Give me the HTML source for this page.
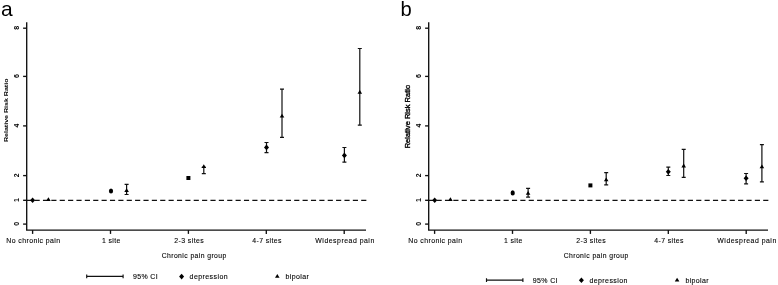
<!DOCTYPE html>
<html><head><meta charset="utf-8"><title>Figure</title>
<style>html,body{margin:0;padding:0;background:#fff;}svg{display:block;}text{font-family:"Liberation Sans",Arial,sans-serif;fill:#000;stroke:#000;stroke-width:0.1px;}</style>
</head><body>
<svg width="778" height="285" viewBox="0 0 778 285">
<rect x="0" y="0" width="778" height="285" fill="#fff"/>
<g>
<text x="1.0" y="16.2" font-size="21" style="stroke:none">a</text>
<path d="M26.7 22.3V230.1H366" fill="none" stroke="#111" stroke-width="1.35"/>
<path d="M23.099999999999998 28.2H26.7" stroke="#111" stroke-width="1.35"/>
<text transform="translate(18.799999999999997 27.9) rotate(-90)" text-anchor="middle" font-size="7" font-weight="bold" style="stroke:none">8</text>
<path d="M23.099999999999998 76.4H26.7" stroke="#111" stroke-width="1.35"/>
<text transform="translate(18.799999999999997 76.10000000000001) rotate(-90)" text-anchor="middle" font-size="7" font-weight="bold" style="stroke:none">6</text>
<path d="M23.099999999999998 125.9H26.7" stroke="#111" stroke-width="1.35"/>
<text transform="translate(18.799999999999997 125.60000000000001) rotate(-90)" text-anchor="middle" font-size="7" font-weight="bold" style="stroke:none">4</text>
<path d="M23.099999999999998 175.6H26.7" stroke="#111" stroke-width="1.35"/>
<text transform="translate(18.799999999999997 175.29999999999998) rotate(-90)" text-anchor="middle" font-size="7" font-weight="bold" style="stroke:none">2</text>
<path d="M23.099999999999998 200.3H26.7" stroke="#111" stroke-width="1.35"/>
<text transform="translate(18.799999999999997 200.0) rotate(-90)" text-anchor="middle" font-size="7" font-weight="bold" style="stroke:none">1</text>
<path d="M23.099999999999998 224.1H26.7" stroke="#111" stroke-width="1.35"/>
<text transform="translate(18.799999999999997 223.79999999999998) rotate(-90)" text-anchor="middle" font-size="7" font-weight="bold" style="stroke:none">0</text>
<path d="M32.6 230.1V233.9" stroke="#111" stroke-width="1.35"/>
<text x="33.2" y="243.1" text-anchor="middle" font-size="6.9" textLength="53.8" lengthAdjust="spacing">No chronic pain</text>
<path d="M110.5 230.1V233.9" stroke="#111" stroke-width="1.35"/>
<text x="111.1" y="243.1" text-anchor="middle" font-size="6.9" textLength="18.3" lengthAdjust="spacing">1 site</text>
<path d="M188.4 230.1V233.9" stroke="#111" stroke-width="1.35"/>
<text x="189.0" y="243.1" text-anchor="middle" font-size="6.9" textLength="29.5" lengthAdjust="spacing">2-3 sites</text>
<path d="M266.3 230.1V233.9" stroke="#111" stroke-width="1.35"/>
<text x="266.9" y="243.1" text-anchor="middle" font-size="6.9" textLength="29.2" lengthAdjust="spacing">4-7 sites</text>
<path d="M344.2 230.1V233.9" stroke="#111" stroke-width="1.35"/>
<text x="344.8" y="243.1" text-anchor="middle" font-size="6.9" textLength="58.9" lengthAdjust="spacing">Widespread pain</text>
<text x="194" y="258.3" text-anchor="middle" font-size="6.8" textLength="64.6" lengthAdjust="spacing">Chronic pain group</text>
<text transform="translate(8.0 110.3) rotate(-90)" text-anchor="middle" font-size="5.9" font-weight="bold" style="stroke:none" textLength="63.5" lengthAdjust="spacingAndGlyphs">Relative Risk Ratio</text>
<path d="M26.2 200.4H366.4" stroke="#111" stroke-width="1.15" stroke-dasharray="5.15 3.225" fill="none"/>
<path d="M32.6 197.5L35.1 200.3L32.6 203.10000000000002L30.1 200.3Z" fill="#000"/>
<path d="M48.4 197.3L50.7 201.1L46.1 201.1Z" fill="#000"/>
<ellipse cx="111" cy="191" rx="2.1" ry="2.6" fill="#000"/>
<path d="M126.6 184.4V194.5M124.6 184.4H128.6M124.6 194.5H128.6" stroke="#111" stroke-width="1.2" fill="none"/>
<path d="M126.6 188.2L128.9 192.0L124.3 192.0Z" fill="#000"/>
<rect x="186.4" y="176.0" width="4.0" height="4.0" fill="#000"/>
<path d="M203.8 167.4V173.6M201.8 167.4H205.8M201.8 173.6H205.8" stroke="#111" stroke-width="1.2" fill="none"/>
<path d="M203.8 164.2L206.1 168.0L201.5 168.0Z" fill="#000"/>
<path d="M266.5 142.5V152.6M264.5 142.5H268.5M264.5 152.6H268.5" stroke="#111" stroke-width="1.2" fill="none"/>
<path d="M266.5 144.6L269.0 147.4L266.5 150.20000000000002L264.0 147.4Z" fill="#000"/>
<path d="M282 89.1V137.4M280.0 89.1H284.0M280.0 137.4H284.0" stroke="#111" stroke-width="1.2" fill="none"/>
<path d="M282 113.8L284.3 117.6L279.7 117.6Z" fill="#000"/>
<path d="M344.4 147.5V162.1M342.4 147.5H346.4M342.4 162.1H346.4" stroke="#111" stroke-width="1.2" fill="none"/>
<path d="M344.4 152.6L346.9 155.4L344.4 158.20000000000002L341.9 155.4Z" fill="#000"/>
<path d="M359.8 48.5V125.1M357.8 48.5H361.8M357.8 125.1H361.8" stroke="#111" stroke-width="1.2" fill="none"/>
<path d="M359.8 90.0L362.1 93.8L357.5 93.8Z" fill="#000"/>
<path d="M86.7 276.4H123.1M86.7 274.5V278.3M123.1 274.5V278.3" stroke="#111" stroke-width="1.15" fill="none"/>
<text x="133.0" y="279.1" font-size="7" textLength="24.7" lengthAdjust="spacing">95% CI</text>
<path d="M181.6 273.8L184.1 276.6L181.6 279.40000000000003L179.1 276.6Z" fill="#000"/>
<text x="189.6" y="279.1" font-size="7" textLength="38" lengthAdjust="spacing">depression</text>
<path d="M277.3 274.0L279.6 277.8L275.0 277.8Z" fill="#000"/>
<text x="285.6" y="279.1" font-size="7" textLength="23.2" lengthAdjust="spacing">bipolar</text>
</g>
<g>
<text x="400.6" y="16.2" font-size="20.2" style="stroke:none">b</text>
<path d="M428.7 22.3V230.1H768.0" fill="none" stroke="#111" stroke-width="1.35"/>
<path d="M425.09999999999997 28.2H428.7" stroke="#111" stroke-width="1.35"/>
<text transform="translate(420.8 27.9) rotate(-90)" text-anchor="middle" font-size="7" font-weight="bold" style="stroke:none">8</text>
<path d="M425.09999999999997 76.4H428.7" stroke="#111" stroke-width="1.35"/>
<text transform="translate(420.8 76.10000000000001) rotate(-90)" text-anchor="middle" font-size="7" font-weight="bold" style="stroke:none">6</text>
<path d="M425.09999999999997 125.9H428.7" stroke="#111" stroke-width="1.35"/>
<text transform="translate(420.8 125.60000000000001) rotate(-90)" text-anchor="middle" font-size="7" font-weight="bold" style="stroke:none">4</text>
<path d="M425.09999999999997 175.6H428.7" stroke="#111" stroke-width="1.35"/>
<text transform="translate(420.8 175.29999999999998) rotate(-90)" text-anchor="middle" font-size="7" font-weight="bold" style="stroke:none">2</text>
<path d="M425.09999999999997 200.3H428.7" stroke="#111" stroke-width="1.35"/>
<text transform="translate(420.8 200.0) rotate(-90)" text-anchor="middle" font-size="7" font-weight="bold" style="stroke:none">1</text>
<path d="M425.09999999999997 224.1H428.7" stroke="#111" stroke-width="1.35"/>
<text transform="translate(420.8 223.79999999999998) rotate(-90)" text-anchor="middle" font-size="7" font-weight="bold" style="stroke:none">0</text>
<path d="M434.6 230.1V233.9" stroke="#111" stroke-width="1.35"/>
<text x="435.2" y="243.1" text-anchor="middle" font-size="6.9" textLength="53.8" lengthAdjust="spacing">No chronic pain</text>
<path d="M512.5 230.1V233.9" stroke="#111" stroke-width="1.35"/>
<text x="513.1" y="243.1" text-anchor="middle" font-size="6.9" textLength="18.3" lengthAdjust="spacing">1 site</text>
<path d="M590.4 230.1V233.9" stroke="#111" stroke-width="1.35"/>
<text x="591.0" y="243.1" text-anchor="middle" font-size="6.9" textLength="29.5" lengthAdjust="spacing">2-3 sites</text>
<path d="M668.3 230.1V233.9" stroke="#111" stroke-width="1.35"/>
<text x="668.9" y="243.1" text-anchor="middle" font-size="6.9" textLength="29.2" lengthAdjust="spacing">4-7 sites</text>
<path d="M746.2 230.1V233.9" stroke="#111" stroke-width="1.35"/>
<text x="746.8" y="243.1" text-anchor="middle" font-size="6.9" textLength="58.9" lengthAdjust="spacing">Widespread pain</text>
<text x="596.0" y="258.3" text-anchor="middle" font-size="6.8" textLength="64.6" lengthAdjust="spacing">Chronic pain group</text>
<text transform="translate(410.2 116.6) rotate(-90)" text-anchor="middle" font-size="6.6" style="stroke-width:0.35px" textLength="63.5" lengthAdjust="spacingAndGlyphs">Relative Risk Ratio</text>
<path d="M428.2 200.4H768.4" stroke="#111" stroke-width="1.15" stroke-dasharray="5.15 3.225" fill="none"/>
<path d="M434.7 197.5L437.2 200.3L434.7 203.10000000000002L432.2 200.3Z" fill="#000"/>
<path d="M450.4 197.3L452.7 201.1L448.1 201.1Z" fill="#000"/>
<ellipse cx="512.7" cy="192.9" rx="2.1" ry="2.6" fill="#000"/>
<path d="M528.1 188.4V197.2M526.1 188.4H530.1M526.1 197.2H530.1" stroke="#111" stroke-width="1.2" fill="none"/>
<path d="M528.1 191.0L530.4 194.8L525.8 194.8Z" fill="#000"/>
<rect x="588.4" y="183.4" width="4.0" height="4.0" fill="#000"/>
<path d="M606.2 172.6V184.8M604.2 172.6H608.2M604.2 184.8H608.2" stroke="#111" stroke-width="1.2" fill="none"/>
<path d="M606.2 177.4L608.5 181.2L603.9 181.2Z" fill="#000"/>
<path d="M668.3 167.1V175.5M666.3 167.1H670.3M666.3 175.5H670.3" stroke="#111" stroke-width="1.2" fill="none"/>
<path d="M668.3 169.0L670.8 171.8L668.3 174.60000000000002L665.8 171.8Z" fill="#000"/>
<path d="M683.7 149.4V177.4M681.7 149.4H685.7M681.7 177.4H685.7" stroke="#111" stroke-width="1.2" fill="none"/>
<path d="M683.7 163.6L686.0 167.4L681.4 167.4Z" fill="#000"/>
<path d="M746.1 173.5V183.8M744.1 173.5H748.1M744.1 183.8H748.1" stroke="#111" stroke-width="1.2" fill="none"/>
<path d="M746.1 175.39999999999998L748.6 178.2L746.1 181.0L743.6 178.2Z" fill="#000"/>
<path d="M761.9 144.7V181.8M759.9 144.7H763.9M759.9 181.8H763.9" stroke="#111" stroke-width="1.2" fill="none"/>
<path d="M761.9 164.4L764.2 168.2L759.6 168.2Z" fill="#000"/>
<path d="M486.5 280.1H522.9M486.5 278.2V282.0M522.9 278.2V282.0" stroke="#111" stroke-width="1.15" fill="none"/>
<text x="532.8" y="282.8" font-size="7" textLength="24.7" lengthAdjust="spacing">95% CI</text>
<path d="M581.4 277.5L583.9 280.3L581.4 283.1L578.9 280.3Z" fill="#000"/>
<text x="589.4" y="282.8" font-size="7" textLength="38" lengthAdjust="spacing">depression</text>
<path d="M677.1 277.7L679.4 281.5L674.8 281.5Z" fill="#000"/>
<text x="685.4" y="282.8" font-size="7" textLength="23.2" lengthAdjust="spacing">bipolar</text>
</g>
</svg>
</body></html>
